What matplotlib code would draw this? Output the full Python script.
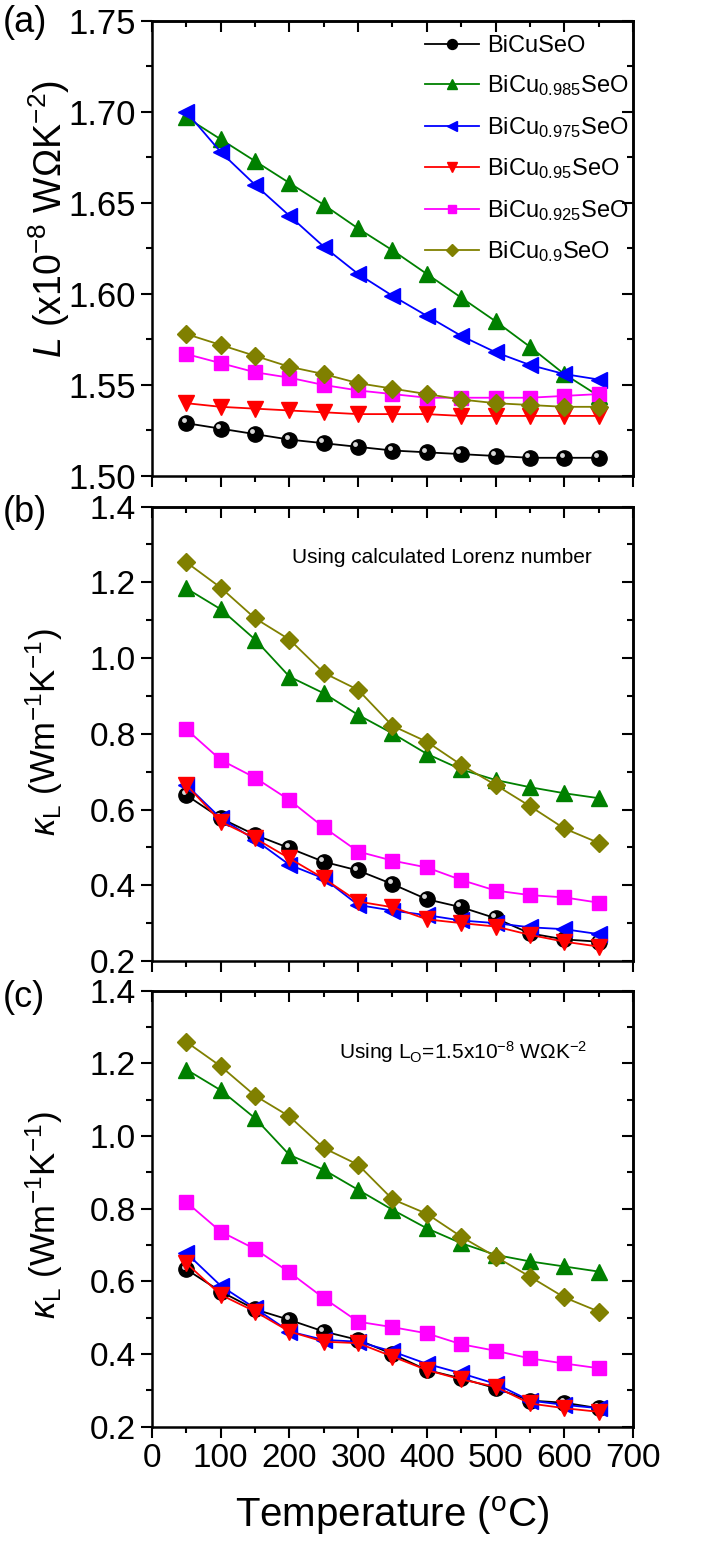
import numpy as np
import matplotlib
matplotlib.use('Agg')
import matplotlib.pyplot as plt
from matplotlib.ticker import MultipleLocator, FormatStrFormatter
import matplotlib.transforms as mtransforms

plt.rcParams['font.family'] = ['Liberation Sans', 'DejaVu Sans']
plt.rcParams['mathtext.fontset'] = 'custom'
plt.rcParams['mathtext.rm'] = 'Liberation Sans'
plt.rcParams['mathtext.it'] = 'Liberation Sans:italic'
plt.rcParams['mathtext.bf'] = 'Liberation Sans:bold'

# Data
temp = [50, 100, 150, 200, 250, 300, 350, 400, 450, 500, 550, 600, 650]
labels = ['BiCuSeO', 'BiCu$_{0.985}$SeO', 'BiCu$_{0.975}$SeO',
          'BiCu$_{0.95}$SeO', 'BiCu$_{0.925}$SeO', 'BiCu$_{0.9}$SeO']

# (a) Lorenz number
L_x0 = [1.529, 1.526, 1.523, 1.520, 1.518, 1.516, 1.514, 1.513, 1.512, 1.511, 1.510, 1.510, 1.510]
L_x0985 = [1.697, 1.685, 1.673, 1.661, 1.649, 1.636, 1.624, 1.611, 1.598, 1.585, 1.571, 1.556, 1.544]
L_x0975 = [1.700, 1.678, 1.660, 1.643, 1.626, 1.611, 1.599, 1.588, 1.577, 1.568, 1.561, 1.556, 1.553]
L_x095 = [1.540, 1.538, 1.537, 1.536, 1.535, 1.534, 1.534, 1.534, 1.533, 1.533, 1.533, 1.533, 1.533]
L_x0925 = [1.567, 1.562, 1.557, 1.554, 1.550, 1.547, 1.545, 1.543, 1.543, 1.543, 1.543, 1.544, 1.545]
L_x09 = [1.578, 1.572, 1.566, 1.560, 1.556, 1.551, 1.548, 1.545, 1.542, 1.540, 1.539, 1.538, 1.538]

# (b) kappa_L using calculated Lorenz number
kb_x0 = [0.638, 0.577, 0.533, 0.498, 0.462, 0.439, 0.403, 0.363, 0.342, 0.313, 0.273, 0.257, 0.251]
kb_x0985 = [1.184, 1.129, 1.049, 0.951, 0.907, 0.850, 0.801, 0.747, 0.706, 0.678, 0.659, 0.643, 0.630]
kb_x0975 = [0.665, 0.577, 0.520, 0.454, 0.418, 0.348, 0.333, 0.321, 0.307, 0.300, 0.289, 0.284, 0.271]
kb_x095 = [0.665, 0.568, 0.524, 0.471, 0.418, 0.357, 0.342, 0.310, 0.300, 0.291, 0.269, 0.251, 0.238]
kb_x0925 = [0.812, 0.731, 0.684, 0.625, 0.553, 0.489, 0.465, 0.447, 0.414, 0.386, 0.374, 0.368, 0.354]
kb_x09 = [1.253, 1.186, 1.105, 1.049, 0.961, 0.916, 0.821, 0.779, 0.718, 0.665, 0.609, 0.550, 0.512]

# (c) kappa_L using L0 = 1.5e-8
kc_x0 = [0.633, 0.572, 0.523, 0.494, 0.462, 0.439, 0.400, 0.356, 0.333, 0.306, 0.272, 0.266, 0.251]
kc_x0985 = [1.183, 1.126, 1.049, 0.948, 0.907, 0.852, 0.797, 0.746, 0.705, 0.673, 0.655, 0.641, 0.627]
kc_x0975 = [0.678, 0.588, 0.526, 0.462, 0.439, 0.434, 0.407, 0.373, 0.347, 0.318, 0.272, 0.260, 0.251]
kc_x095 = [0.650, 0.563, 0.517, 0.462, 0.434, 0.430, 0.393, 0.356, 0.330, 0.310, 0.264, 0.251, 0.241]
kc_x0925 = [0.818, 0.737, 0.689, 0.625, 0.554, 0.489, 0.474, 0.457, 0.427, 0.409, 0.388, 0.374, 0.361]
kc_x09 = [1.259, 1.192, 1.111, 1.054, 0.967, 0.921, 0.826, 0.786, 0.723, 0.668, 0.613, 0.556, 0.517]

colors = ['black', '#008000', '#0000ff', '#ff0000', '#ff00ff', '#808000']
markers = ['o', '^', '<', 'v', 's', 'D']
msizes = [11, 11.5, 11.5, 11.5, 9.5, 9.5]

fig = plt.figure(figsize=(7.15, 15.55), dpi=100)
ax_a = fig.add_axes([0.2126, 0.6939, 0.6727, 0.2926])
ax_b = fig.add_axes([0.2126, 0.3820, 0.6727, 0.2922])
ax_c = fig.add_axes([0.2126, 0.0825, 0.6727, 0.2804])

panels = [
    (ax_a, [L_x0, L_x0985, L_x0975, L_x095, L_x0925, L_x09]),
    (ax_b, [kb_x0, kb_x0985, kb_x0975, kb_x095, kb_x0925, kb_x09]),
    (ax_c, [kc_x0, kc_x0985, kc_x0975, kc_x095, kc_x0925, kc_x09]),
]

for ax, series in panels:
    for i, y in enumerate(series):
        ax.plot(temp, y, color=colors[i], marker=markers[i], ms=msizes[i],
                lw=1.3, mec=colors[i], label=labels[i], zorder=3 + i * 0.01)
        if i == 0:
            # shiny highlight on the black spheres
            off = mtransforms.offset_copy(ax.transData, fig=fig, x=-2, y=2, units='points')
            ax.plot(temp, y, ls='none', marker='o', ms=3.5, color='#d8d8d8',
                    mec='none', transform=off, zorder=3.005)
    ax.set_xlim(0, 700)
    ax.xaxis.set_major_locator(MultipleLocator(100))
    ax.xaxis.set_minor_locator(MultipleLocator(50))
    for s in ax.spines.values():
        s.set_linewidth(1.8)
    ax.tick_params(which='both', direction='out', width=1.5, labelsize=24)
    ax.tick_params(which='major', length=8)
    ax.tick_params(which='minor', length=4.5)
    # inward ticks on top / right
    ax.tick_params(which='both', top=False, right=False)
    sec_x = ax.secondary_xaxis('top')
    sec_x.xaxis.set_major_locator(MultipleLocator(100))
    sec_x.xaxis.set_minor_locator(MultipleLocator(50))
    sec_x.tick_params(which='both', direction='in', width=1.5, labeltop=False)
    sec_x.tick_params(which='major', length=8)
    sec_x.tick_params(which='minor', length=4.5)
    sec_x.spines['top'].set_linewidth(1.8)
    sec_y = ax.secondary_yaxis('right')
    ax._sec_y = sec_y
    sec_y.tick_params(which='both', direction='in', width=1.5, labelright=False)
    sec_y.tick_params(which='major', length=8)
    sec_y.tick_params(which='minor', length=4.5)
    sec_y.spines['right'].set_linewidth(1.8)
    if ax is not ax_c:
        ax.tick_params(labelbottom=False)

# panel a axes
ax_a.set_ylim(1.50, 1.75)
ax_a.yaxis.set_major_locator(MultipleLocator(0.05))
ax_a.yaxis.set_minor_locator(MultipleLocator(0.025))
ax_a.yaxis.set_major_formatter(FormatStrFormatter('%.2f'))
ax_a.tick_params(axis='y', labelsize=25)
ax_a._sec_y.yaxis.set_major_locator(MultipleLocator(0.05))
ax_a._sec_y.yaxis.set_minor_locator(MultipleLocator(0.025))
ax_a.text(-0.214, 0.565, '$L$ (x10$^{-8}$ W\u03a9K$^{-2}$)', transform=ax_a.transAxes,
          rotation=90, ha='center', va='center', fontsize=27)
ax_a.legend(loc='upper left', bbox_to_anchor=(0.548, 0.99), borderaxespad=0,
            frameon=False, fontsize=17, markerscale=0.65, handlelength=2.3,
            handletextpad=0.34, labelspacing=0.7)

kappa_label = '$\\kappa_{\\mathrm{L}}$ (Wm$^{-1}$K$^{-1}$)'
for ax, yc in ((ax_b, 0.504), (ax_c, 0.486)):
    ax.set_ylim(0.2, 1.4)
    ax.yaxis.set_major_locator(MultipleLocator(0.2))
    ax.yaxis.set_minor_locator(MultipleLocator(0.1))
    ax.yaxis.set_major_formatter(FormatStrFormatter('%.1f'))
    ax._sec_y.yaxis.set_major_locator(MultipleLocator(0.2))
    ax._sec_y.yaxis.set_minor_locator(MultipleLocator(0.1))
    ax.text(-0.225, yc, kappa_label, transform=ax.transAxes,
            rotation=90, ha='center', va='center', fontsize=25)

ax_b.text(0.915, 0.889, 'Using calculated Lorenz number', transform=ax_b.transAxes,
          ha='right', va='center', fontsize=15)
ax_c.text(0.906, 0.859, 'Using L$_{\\mathrm{O}}$=1.5x10$^{-8}$ W\u03a9K$^{-2}$',
          transform=ax_c.transAxes, ha='right', va='center', fontsize=15)

ax_c.set_xlabel('Temperature ($^{\\mathrm{o}}$C)', fontsize=29, labelpad=15)

fig.text(0.004, 1 - 22 / 1555, '(a)', fontsize=26, va='center', ha='left')
fig.text(0.004, 1 - 512 / 1555, '(b)', fontsize=26, va='center', ha='left')
fig.text(0.004, 1 - 997 / 1555, '(c)', fontsize=26, va='center', ha='left')

fig.savefig('out.png', dpi=100)
